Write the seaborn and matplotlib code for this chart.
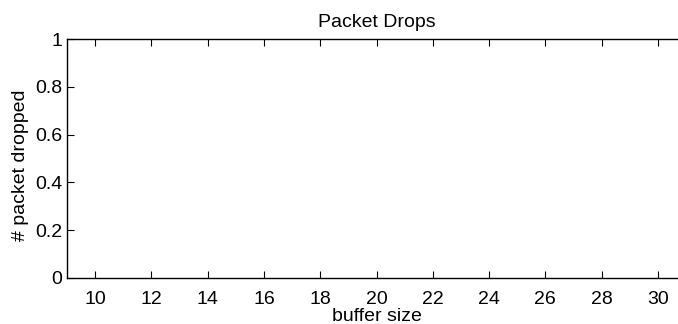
import matplotlib
matplotlib.use("Agg")
import matplotlib.pyplot as plt
import seaborn as sns
import pandas as pd

# Data (the reference chart shows no plotted marks)
buffer_size = []
packets_dropped = []
x_ticks = [10, 12, 14, 16, 18, 20, 22, 24, 26, 28, 30]
y_ticks = [0, 0.2, 0.4, 0.6, 0.8, 1]
y_tick_labels = ["0", "0.2", "0.4", "0.6", "0.8", "1"]

sns.set_style("ticks")
plt.rcParams['font.family'] = ['Liberation Sans', 'DejaVu Sans']
plt.rcParams['text.color'] = 'black'
plt.rcParams['axes.labelcolor'] = 'black'

fig = plt.figure(figsize=(6.78, 3.24), dpi=100)
ax = fig.add_axes([67/678, 46.3/324, (686-67)/678, (277.7-39.3)/324])

df = pd.DataFrame({"buffer size": pd.Series(buffer_size, dtype=float),
                   "# packet dropped": pd.Series(packets_dropped, dtype=float)})
sns.lineplot(data=df, x="buffer size", y="# packet dropped", ax=ax)

ax.set_xlim(9, 31)
ax.set_ylim(0, 1)
ax.set_xticks(x_ticks)
ax.set_yticks(y_ticks)
ax.set_yticklabels(y_tick_labels)
for name, s in ax.spines.items():
    s.set_visible(name != "right")
    s.set_linewidth(1.0)
    s.set_color("black")
ax.tick_params(direction="in", length=5, width=0.8, top=True, right=False,
               labelsize=14, colors="black")
ax.tick_params(axis="x", pad=9.5)
ax.tick_params(axis="y", pad=3.6)
ax.set_xlabel("buffer size", fontsize=14, labelpad=0)
ax.set_ylabel("# packet dropped", fontsize=14)
ax.yaxis.set_label_coords(-0.0614, 0.473)
ax.set_title("Packet Drops", fontsize=14, pad=9)

fig.savefig("out.png", dpi=100)
